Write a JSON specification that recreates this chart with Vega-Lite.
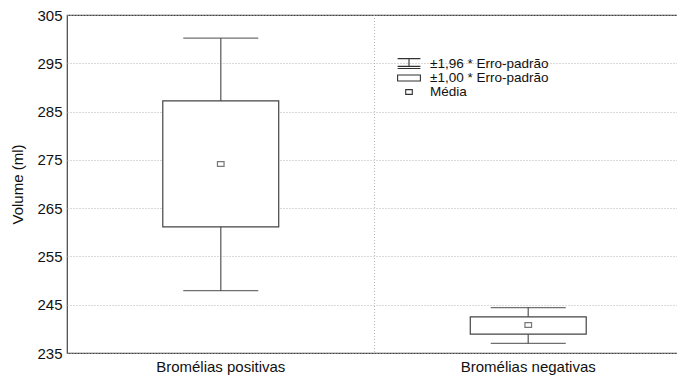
{
  "$schema": "https://vega.github.io/schema/vega-lite/v6.json",
  "width": 615,
  "height": 338,
  "autosize": {"type": "none"},
  "padding": {"left": 67, "top": 15, "right": 0, "bottom": 23},
  "background": "white",
  "config": {
    "font": "Liberation Sans",
    "view": {"stroke": "#444", "strokeWidth": 1.2}
  },
  "data": {
    "values": [
      {"grupo": "Bromélias positivas", "media": 274.15, "ep_inf": 261.1, "ep_sup": 287.2, "ic_inf": 247.9, "ic_sup": 300.2},
      {"grupo": "Bromélias negativas", "media": 240.8, "ep_inf": 238.9, "ep_sup": 242.5, "ic_inf": 237.0, "ic_sup": 244.4}
    ]
  },
  "encoding": {
    "x": {
      "field": "grupo",
      "type": "nominal",
      "sort": ["Bromélias positivas", "Bromélias negativas"],
      "scale": {"paddingInner": 0, "paddingOuter": 0},
      "axis": {"title": null, "labelAngle": 0, "ticks": false, "domain": false, "grid": false, "labelFontSize": 15, "labelColor": "#111", "labelPadding": 6}
    }
  },
  "layer": [
    {
      "mark": {"type": "rule", "color": "#aaa", "strokeWidth": 1},
      "encoding": {
        "y": {
          "field": "ic_inf",
          "type": "quantitative",
          "scale": {"domain": [235, 305], "nice": false, "zero": false},
          "axis": {"title": "Volume (ml)", "values": [235, 245, 255, 265, 275, 285, 295, 305], "grid": true, "gridDash": [1, 2], "gridColor": "#b5b5b5", "ticks": false, "domain": false, "labelFontSize": 15, "labelColor": "#111", "labelPadding": 5, "titleFontSize": 15, "titleFontWeight": "normal", "titleColor": "#111", "titlePadding": 11}
        },
        "x": {"field": "grupo", "type": "nominal", "bandPosition": 0},
        "opacity": {"value": 0}
      }
    },
    {
      "data": {"values": [{"grupo": "Bromélias negativas"}]},
      "mark": {"type": "rule", "color": "#b5b5b5", "strokeDash": [1, 2], "strokeWidth": 1},
      "encoding": {
        "x": {"field": "grupo", "type": "nominal", "bandPosition": 0}
      }
    },
    {
      "mark": {"type": "rule", "color": "#777", "strokeWidth": 1.5},
      "encoding": {
        "y": {"field": "ic_inf", "type": "quantitative"},
        "y2": {"field": "ic_sup"}
      }
    },
    {
      "mark": {"type": "tick", "orient": "horizontal", "color": "#333", "size": 75, "thickness": 1.2},
      "encoding": {"y": {"field": "ic_inf", "type": "quantitative"}}
    },
    {
      "mark": {"type": "tick", "orient": "horizontal", "color": "#333", "size": 75, "thickness": 1.2},
      "encoding": {"y": {"field": "ic_sup", "type": "quantitative"}}
    },
    {
      "mark": {"type": "bar", "fill": "white", "stroke": "#444", "strokeWidth": 1.2, "width": {"band": 0.377}},
      "encoding": {
        "y": {"field": "ep_inf", "type": "quantitative"},
        "y2": {"field": "ep_sup"}
      }
    },
    {
      "mark": {"type": "point", "filled": false, "stroke": "#777", "strokeWidth": 1.2, "size": 144, "opacity": 1},
      "encoding": {
        "y": {"field": "media", "type": "quantitative"},
        "shape": {
          "datum": "Média",
          "type": "nominal",
          "scale": {
            "domain": ["±1,96 * Erro-padrão", "±1,00 * Erro-padrão", "Média"],
            "range": [
              "M-1.9,-0.9H1.9M0,-0.9V0.4M-1.9,0.4H1.9M-1.9,0.75H1.9",
              "M-1.9,-0.5H1.9V0.5H-1.9Z",
              "M-0.55,-0.4H0.55V0.4H-0.55Z"
            ]
          },
          "legend": {
            "title": null,
            "orient": "none",
            "legendX": 335,
            "legendY": 42,
            "symbolSize": 144,
            "symbolStrokeColor": "#333",
            "symbolFillColor": "white",
            "symbolStrokeWidth": 1.1,
            "labelOffset": 14,
            "labelFontSize": 13.5,
            "labelColor": "#111",
            "rowPadding": 0,
            "padding": 0
          }
        }
      }
    }
  ]
}
